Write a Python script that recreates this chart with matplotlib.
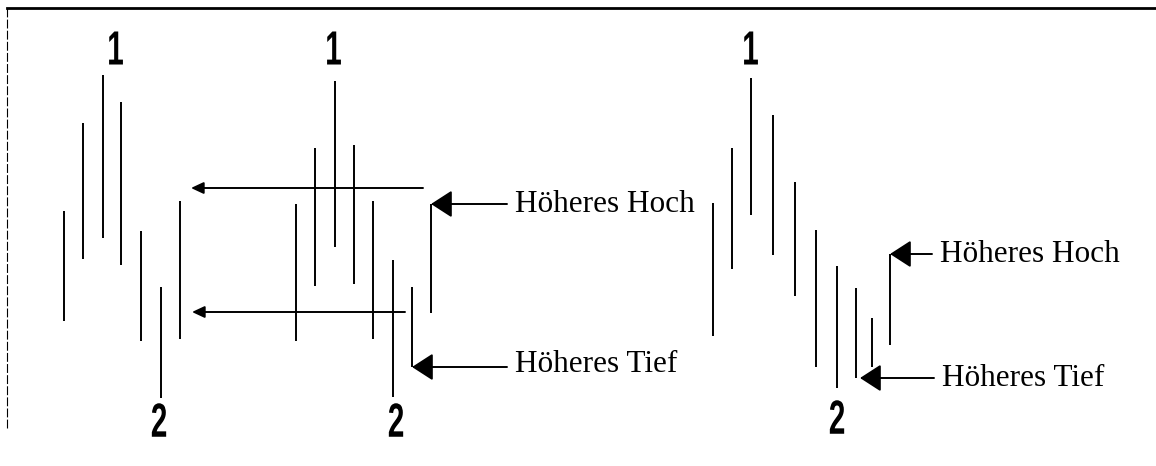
import numpy as np
import matplotlib.pyplot as plt
from matplotlib.textpath import TextPath
from matplotlib.patches import PathPatch
from matplotlib.font_manager import FontProperties
from matplotlib.transforms import Affine2D

# bar chart groups: x position, high, low (price units)
g1_x = [64, 83, 103, 121, 141, 161, 180]
g1_high = [255, 343, 391, 364, 235, 179, 265]
g1_low = [145, 207, 228, 201, 125, 68, 127]

g2_x = [296, 315, 335, 354, 373, 393, 412, 431]
g2_high = [262, 318, 385, 321, 265, 206, 179, 262]
g2_low = [125, 180, 219, 182, 127, 69, 99, 153]

g3_x = [713, 732, 751, 773, 795, 816, 837, 856, 872, 890]
g3_high = [263, 318, 388, 351, 284, 236, 200, 178, 148, 212]
g3_low = [130, 197, 251, 211, 170, 99, 78, 88, 99, 121]

# swing point labels (x, y)
top_labels = [(116, 418), (334, 418), (751, 418)]
bottom_labels = [(159, 46), (396, 46), (837, 49)]

# horizontal reference arrows: (x_from, x_to, level)
ref_arrows = [(423, 191, 278), (405, 192, 154)]

# annotations: text, tip (x, y), text (x, y)
notes = [
    ("Höheres Hoch", (431, 262), (515, 262)),
    ("Höheres Tief", (412, 99), (515, 101)),
    ("Höheres Hoch", (890, 212), (940, 211)),
    ("Höheres Tief", (860, 88), (942, 88)),
]

fig = plt.figure(figsize=(11.56, 4.66), dpi=100)
ax = fig.add_axes([0, 0, 1, 1])
ax.set_xlim(0, 1156)
ax.set_ylim(0, 466)
ax.axis("off")

for xs, hi, lo in [(g1_x, g1_high, g1_low), (g2_x, g2_high, g2_low), (g3_x, g3_high, g3_low)]:
    ax.vlines(xs, lo, hi, color="black", lw=1.4)


# narrow bold digits: squeeze a bold glyph horizontally
digit_prop = FontProperties(family="Liberation Sans", weight="bold")


def narrow_digit(ch, x, y):
    tp = TextPath((0, 0), ch, size=48, prop=digit_prop)
    ext = tp.get_extents()
    cx = (ext.x0 + ext.x1) / 2
    cy = (ext.y0 + ext.y1) / 2
    tr = Affine2D().translate(-cx, -cy).scale(0.62, 1.0).translate(x, y)
    ax.add_patch(PathPatch(tr.transform_path(tp), color="black", lw=0))


for x, y in top_labels:
    narrow_digit("1", x, y)
for x, y in bottom_labels:
    narrow_digit("2", x, y)

for x0, x1, y in ref_arrows:
    ax.annotate("", xy=(x1, y), xytext=(x0, y),
                arrowprops=dict(arrowstyle="-|>,head_length=0.75,head_width=0.35",
                                mutation_scale=10, color="black", lw=1.4,
                                shrinkA=0, shrinkB=0))

for txt, tip, pos in notes:
    ax.annotate("", xy=tip, xytext=(pos[0] - 8, tip[1]),
                arrowprops=dict(arrowstyle="-|>,head_length=0.65,head_width=0.42",
                                mutation_scale=20, color="black", lw=1.4,
                                shrinkA=0, shrinkB=0))
    ax.text(pos[0], pos[1], txt, fontsize=22.5, family="Liberation Serif",
            ha="left", va="center")

# frame: top and left edges only
ax.plot([7, 1156], [458, 458], color="black", lw=2)
ax.plot([7, 7], [38, 458], color="black", lw=0.8, ls=(0, (8, 2)))

fig.savefig("out.png", dpi=100)
